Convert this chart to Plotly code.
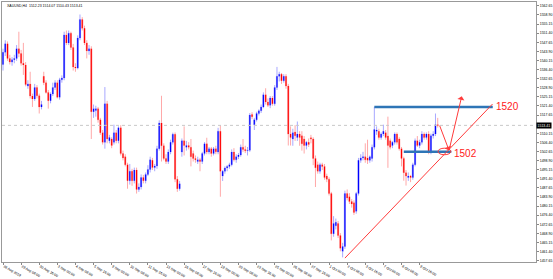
import plotly.graph_objects as go

# ---- data (XAUUSD H4) ----
opens = [1538.5,1543.5,1547.0,1541.0,1539.5,1540.5,1541.0,1545.0,1543.0,1539.0,
         1538.3,1529.6,1530.5,1525.5,1524.3,1529.0,1525.6,1521.0,1533.6,1531.0,
         1527.0,1523.6,1526.3,1529.0,1531.0,1525.0,1532.2,1532.9,1550.7,1547.4,
         1551.4,1545.5,1537.5,1537.0,1549.4,1557.0,1553.4,1547.4,1544.1,1545.0,
         1519.0,1519.5,1520.3,1515.7,1510.4,1506.4,1522.3,1507.1,1507.8,1506.4,
         1510.4,1507.1,1512.4,1501.8,1500.5,1497.2,1490.6,1494.5,1490.6,1495.0,
         1487.0,1488.0,1491.9,1490.6,1493.2,1495.2,1499.0,1496.0,1496.7,1503.8,
         1514.4,1505.0,1499.8,1498.5,1502.4,1506.4,1509.7,1491.2,1487.3,1502.4,
         1507.1,1504.4,1505.1,1504.4,1501.8,1499.8,1498.5,1499.2,1498.5,1501.8,
         1505.8,1502.4,1503.8,1501.8,1503.8,1502.4,1511.0,1492.5,1494.5,1495.8,
         1496.5,1497.2,1502.4,1499.2,1500.5,1501.2,1504.4,1503.5,1502.9,1503.2,
         1517.9,1513.7,1515.7,1518.3,1519.4,1521.0,1526.0,1523.0,1521.7,1524.7,
         1522.3,1529.0,1533.6,1534.5,1531.8,1533.6,1529.6,1509.8,1507.8,1510.7,
         1508.4,1509.8,1509.1,1507.8,1505.1,1506.4,1508.3,1507.8,1499.8,1497.2,
         1494.5,1497.2,1496.5,1492.5,1491.2,1485.3,1468.7,1472.0,1473.0,1468.0,
         1461.5,1463.5,1485.3,1484.0,1482.0,1481.5,1478.0,1485.3,1499.0,1500.0,
         1500.5,1500.0,1499.0,1499.8,1504.4,1511.0,1511.0,1508.4,1509.8,1510.4,
         1509.0,1507.1,1505.1,1506.4,1509.8,1507.8,1503.8,1499.8,1493.9,1491.9,
         1492.5,1491.9,1497.2,1507.1,1505.1,1506.4,1509.8,1508.4,1509.8,1502.4,
         1509.1,1509.8,1513.7]
highs = [1545.0,1548.5,1548.0,1542.5,1541.5,1542.5,1546.5,1552.0,1544.5,1547.4,
         1539.5,1532.0,1535.5,1526.5,1530.5,1530.0,1526.5,1523.5,1535.5,1532.0,
         1528.0,1527.0,1531.0,1532.0,1532.0,1533.0,1534.0,1552.0,1552.5,1552.5,
         1552.0,1547.0,1539.0,1550.5,1559.1,1558.0,1554.5,1548.5,1546.5,1546.0,
         1522.0,1521.5,1521.0,1516.5,1511.5,1529.2,1523.5,1509.5,1508.5,1513.7,
         1511.5,1513.0,1513.5,1503.0,1501.5,1498.0,1497.5,1495.5,1496.0,1496.0,
         1489.5,1493.2,1493.0,1494.0,1497.0,1500.5,1500.0,1497.5,1505.0,1515.5,
         1525.6,1506.0,1501.5,1503.5,1507.5,1510.4,1510.5,1492.5,1490.5,1508.0,
         1513.0,1507.0,1506.5,1507.8,1503.0,1501.0,1500.5,1500.0,1502.5,1506.5,
         1508.3,1504.5,1504.5,1504.5,1505.0,1512.4,1513.5,1495.0,1496.5,1497.0,
         1498.0,1503.5,1504.0,1501.5,1502.0,1505.5,1507.8,1505.0,1504.5,1518.5,
         1518.8,1516.5,1519.0,1520.0,1522.0,1527.0,1528.7,1524.5,1525.5,1525.5,
         1530.0,1537.5,1535.5,1535.0,1534.5,1534.5,1530.5,1513.0,1512.0,1513.5,
         1515.0,1511.0,1511.0,1509.0,1507.0,1508.0,1509.5,1508.5,1501.0,1498.5,
         1498.0,1498.0,1497.5,1493.5,1492.0,1486.0,1476.0,1475.0,1474.0,1469.0,
         1465.0,1486.5,1487.0,1485.5,1483.0,1482.5,1486.0,1500.0,1501.5,1502.5,
         1506.0,1507.5,1501.0,1505.5,1521.0,1513.0,1512.0,1510.5,1513.7,1511.5,
         1517.0,1508.0,1507.0,1510.5,1510.5,1508.5,1504.5,1500.5,1495.0,1494.0,
         1493.0,1498.0,1508.0,1509.0,1507.5,1511.0,1510.5,1510.5,1511.0,1510.0,
         1511.0,1518.3,1516.5]
lows = [1536.0,1542.0,1540.0,1538.5,1538.0,1539.0,1540.0,1541.5,1538.0,1534.2,
        1529.5,1528.5,1524.5,1521.0,1523.5,1524.5,1518.3,1520.0,1530.0,1526.5,
        1520.3,1522.5,1525.5,1528.0,1524.5,1524.0,1531.0,1532.0,1546.5,1546.5,
        1544.5,1536.0,1535.5,1536.5,1548.5,1552.5,1546.5,1541.0,1542.5,1507.8,
        1516.5,1517.0,1514.5,1509.5,1505.5,1503.8,1506.0,1506.0,1504.0,1505.5,
        1506.0,1506.0,1501.0,1499.0,1496.5,1487.3,1489.0,1488.5,1489.5,1485.3,
        1486.0,1487.0,1489.5,1489.5,1492.5,1494.0,1495.0,1494.5,1495.5,1503.0,
        1498.5,1499.0,1497.5,1497.5,1501.5,1505.5,1490.0,1486.0,1486.5,1500.5,
        1501.0,1503.0,1503.5,1496.5,1498.5,1498.0,1497.5,1494.5,1497.5,1501.0,
        1501.5,1501.5,1500.5,1501.0,1501.5,1501.5,1484.0,1490.5,1493.5,1494.5,
        1495.5,1496.5,1498.5,1498.0,1499.5,1500.5,1502.5,1502.0,1501.0,1502.5,
        1516.0,1511.5,1515.0,1517.5,1518.5,1520.5,1522.0,1521.0,1520.5,1521.5,
        1521.5,1528.0,1531.5,1530.5,1531.0,1528.5,1505.1,1505.1,1505.0,1507.0,
        1507.0,1505.0,1503.0,1501.8,1503.5,1504.5,1506.0,1497.0,1488.0,1493.5,
        1493.5,1495.0,1491.0,1490.0,1484.5,1466.0,1467.5,1470.5,1467.0,1461.5,
        1459.0,1462.5,1482.5,1481.0,1479.5,1476.5,1477.0,1484.5,1498.0,1499.0,
        1498.0,1497.5,1498.0,1498.5,1503.5,1509.5,1507.5,1507.5,1509.0,1507.5,
        1495.9,1503.5,1504.0,1505.5,1505.5,1503.0,1496.5,1490.6,1488.6,1490.5,
        1490.0,1491.0,1496.5,1504.5,1504.0,1505.5,1507.5,1507.5,1501.5,1501.5,
        1508.0,1509.0,1512.5]
closes = [1543.5,1547.0,1541.0,1539.5,1540.5,1541.0,1545.0,1543.0,1539.0,1538.3,
          1530.2,1530.5,1525.5,1524.3,1529.0,1525.6,1521.0,1522.0,1531.0,1527.0,
          1523.6,1526.3,1529.0,1531.0,1525.0,1532.2,1532.9,1550.7,1547.4,1551.4,
          1545.5,1537.5,1537.0,1549.4,1557.0,1553.4,1547.4,1544.1,1545.0,1519.0,
          1520.3,1520.3,1515.7,1510.4,1506.4,1522.3,1507.8,1508.4,1505.1,1510.4,
          1507.1,1512.4,1501.8,1500.0,1497.2,1490.6,1494.5,1490.6,1495.0,1487.0,
          1488.0,1491.9,1490.6,1493.2,1495.2,1499.2,1496.0,1496.7,1503.8,1514.4,
          1505.0,1499.8,1498.5,1502.4,1506.4,1509.7,1491.2,1487.3,1489.3,1507.1,
          1505.1,1505.1,1504.4,1500.5,1499.8,1499.2,1499.2,1498.5,1501.8,1505.8,
          1502.4,1503.8,1501.8,1503.8,1502.5,1511.0,1494.5,1494.5,1495.8,1496.5,
          1497.2,1502.4,1499.2,1500.5,1501.2,1504.4,1503.5,1502.9,1503.2,1517.7,
          1517.0,1515.7,1518.3,1519.4,1521.0,1526.0,1523.0,1521.7,1524.7,1522.3,
          1529.0,1533.6,1534.5,1531.8,1533.6,1529.6,1509.8,1508.4,1510.4,1509.1,
          1509.8,1508.4,1505.8,1505.1,1506.4,1505.5,1507.8,1499.8,1495.9,1494.5,
          1497.2,1496.5,1491.9,1491.2,1485.3,1468.7,1473.0,1473.5,1468.0,1462.8,
          1463.5,1485.3,1483.5,1482.0,1481.0,1477.5,1485.3,1499.0,1500.0,1500.5,
          1499.2,1499.0,1500.5,1504.4,1511.7,1511.5,1508.4,1509.8,1511.0,1508.4,
          1505.1,1504.4,1506.4,1509.8,1506.4,1503.8,1499.8,1493.9,1492.5,1492.5,
          1491.9,1497.2,1507.1,1505.1,1506.4,1509.8,1508.4,1509.8,1502.5,1509.1,
          1509.8,1513.7,1513.4]

tick_bars = [0, 8, 16, 24, 32, 40, 48, 56, 64, 72, 80, 88, 96, 104, 112, 120,
             128, 136, 144, 152, 160, 168, 176, 184]
tick_text = ["28 Aug 2019", "29 Aug 08:00", "30 Aug 16:00", "3 Sep 00:00",
             "4 Sep 08:00", "5 Sep 16:00", "9 Sep 00:00", "10 Sep 08:00",
             "11 Sep 16:00", "13 Sep 00:00", "16 Sep 08:00", "17 Sep 16:00",
             "19 Sep 00:00", "20 Sep 08:00", "23 Sep 16:00", "25 Sep 00:00",
             "26 Sep 08:00", "27 Sep 16:00", "1 Oct 00:00", "2 Oct 08:00",
             "3 Oct 16:00", "7 Oct 00:00", "8 Oct 08:00", "9 Oct 16:00"]
# (the 1513.90 level is covered by the current-price box, as in the terminal)
price_ticks = [1562.65, 1558.90, 1555.15, 1551.40, 1547.65, 1543.90, 1540.15,
               1536.40, 1532.65, 1528.90, 1525.15, 1521.40, 1517.65,
               1510.15, 1506.40, 1502.65, 1498.90, 1495.15, 1491.40, 1487.65,
               1483.90, 1480.15, 1476.40, 1472.65, 1468.90, 1465.15, 1461.40,
               1457.65]

current_price = 1513.41
resistance = {"level": 1521.0, "x0": 164, "x1": 216.3, "label": "1520"}
support = {"level": 1502.5, "x0": 177, "x1": 198, "label": "1502"}
trend = {"x0": 151, "y0": 1458.7, "x1": 216.2, "y1": 1522.2}
arrow_down = {"x0": 192.6, "y0": 1513.9, "x1": 197.0, "y1": 1503.1}
arrow_up = {"x0": 197.0, "y0": 1503.1, "x1": 202.6, "y1": 1525.4}
circle = {"x0": 192.1, "x1": 197.8, "y0": 1501.3, "y1": 1504.0}

x = list(range(len(closes)))
body_hi = [max(o, c) for o, c in zip(opens, closes)]
body_lo = [min(o, c) for o, c in zip(opens, closes)]

BLUE = "#0000ff"
RED = "#ff0000"
fig = go.Figure()
# wicks
fig.add_trace(go.Candlestick(
    x=x, open=opens, high=highs, low=lows, close=closes,
    increasing=dict(line=dict(color="#a8a8ff", width=1), fillcolor="#a8a8ff"),
    decreasing=dict(line=dict(color="#ffa8a8", width=1), fillcolor="#ffa8a8"),
    whiskerwidth=0, showlegend=False, hoverinfo="skip"))
# bodies
fig.add_trace(go.Candlestick(
    x=x, open=opens, high=body_hi, low=body_lo, close=closes,
    increasing=dict(line=dict(color=BLUE, width=0), fillcolor=BLUE),
    decreasing=dict(line=dict(color=RED, width=0), fillcolor=RED),
    whiskerwidth=0, showlegend=False))

shapes = []
shapes.append(dict(type="line", xref="paper", x0=0, x1=1, yref="y",
                   y0=current_price, y1=current_price,
                   line=dict(color="#c8c8c8", width=1, dash="dot")))
for lv in (resistance, support):
    shapes.append(dict(type="line", xref="x", yref="y", x0=lv["x0"], x1=lv["x1"],
                       y0=lv["level"], y1=lv["level"],
                       line=dict(color="#2e75b6", width=2.5)))
shapes.append(dict(type="line", xref="x", yref="y", x0=trend["x0"], y0=trend["y0"],
                   x1=trend["x1"], y1=trend["y1"],
                   line=dict(color="#ff3b3b", width=1)))
shapes.append(dict(type="circle", xref="x", yref="y", x0=circle["x0"], x1=circle["x1"],
                   y0=circle["y0"], y1=circle["y1"],
                   line=dict(color="#ff3b3b", width=1)))

annotations = []
for a in (arrow_down, arrow_up):
    annotations.append(dict(x=a["x1"], y=a["y1"], ax=a["x0"], ay=a["y0"],
                            xref="x", yref="y", axref="x", ayref="y",
                            showarrow=True, arrowhead=1, arrowsize=1.2,
                            arrowwidth=1, arrowcolor="#ff3b3b", text=""))
annotations.append(dict(x=resistance["x1"] + 0.5, y=resistance["level"], xref="x", yref="y",
                        text=resistance["label"], showarrow=False, xanchor="left",
                        font=dict(color="#ff2020", size=10, family="Arial")))
annotations.append(dict(x=support["x1"] + 0.3, y=support["level"] - 0.5, xref="x", yref="y",
                        text=support["label"], showarrow=False, xanchor="left",
                        font=dict(color="#ff2020", size=10, family="Arial")))
annotations.append(dict(x=0.006, y=1.0, xref="paper", yref="paper", xanchor="left",
                        yanchor="top", showarrow=False,
                        text="XAUUSD,H4  1512.23 1514.07 1510.43 1513.41",
                        font=dict(size=3.5, color="#000000", family="Arial")))
annotations.append(dict(x=1.0, y=current_price, xref="paper", yref="y", xanchor="left",
                        showarrow=False, text=f"{current_price:.2f}",
                        bgcolor="#000000", borderpad=0.5,
                        font=dict(size=3.5, color="#ffffff", family="Arial")))

fig.update_layout(
    width=553, height=279,
    margin=dict(l=1, r=12, t=1, b=8),
    paper_bgcolor="#ffffff", plot_bgcolor="#ffffff",
    shapes=shapes, annotations=annotations,
    xaxis=dict(range=[-0.44, 235.4], rangeslider=dict(visible=False),
               tickvals=tick_bars, ticktext=tick_text, ticklabelposition="outside right",
               ticks="outside", ticklen=2, tickcolor="#888888",
               tickfont=dict(size=3.5, color="#000000", family="Arial"),
               showgrid=False, zeroline=False, showline=True, linecolor="#999999",
               linewidth=1, mirror=True),
    yaxis=dict(range=[1457.1, 1564.25], side="right",
               tickvals=price_ticks, ticktext=[f"{v:.2f}" for v in price_ticks],
               ticks="outside", ticklen=2, tickcolor="#888888",
               tickfont=dict(size=3.5, color="#000000", family="Arial"),
               showgrid=False, zeroline=False, showline=True, linecolor="#999999",
               linewidth=1, mirror=True),
)

fig.write_html("out.html")
